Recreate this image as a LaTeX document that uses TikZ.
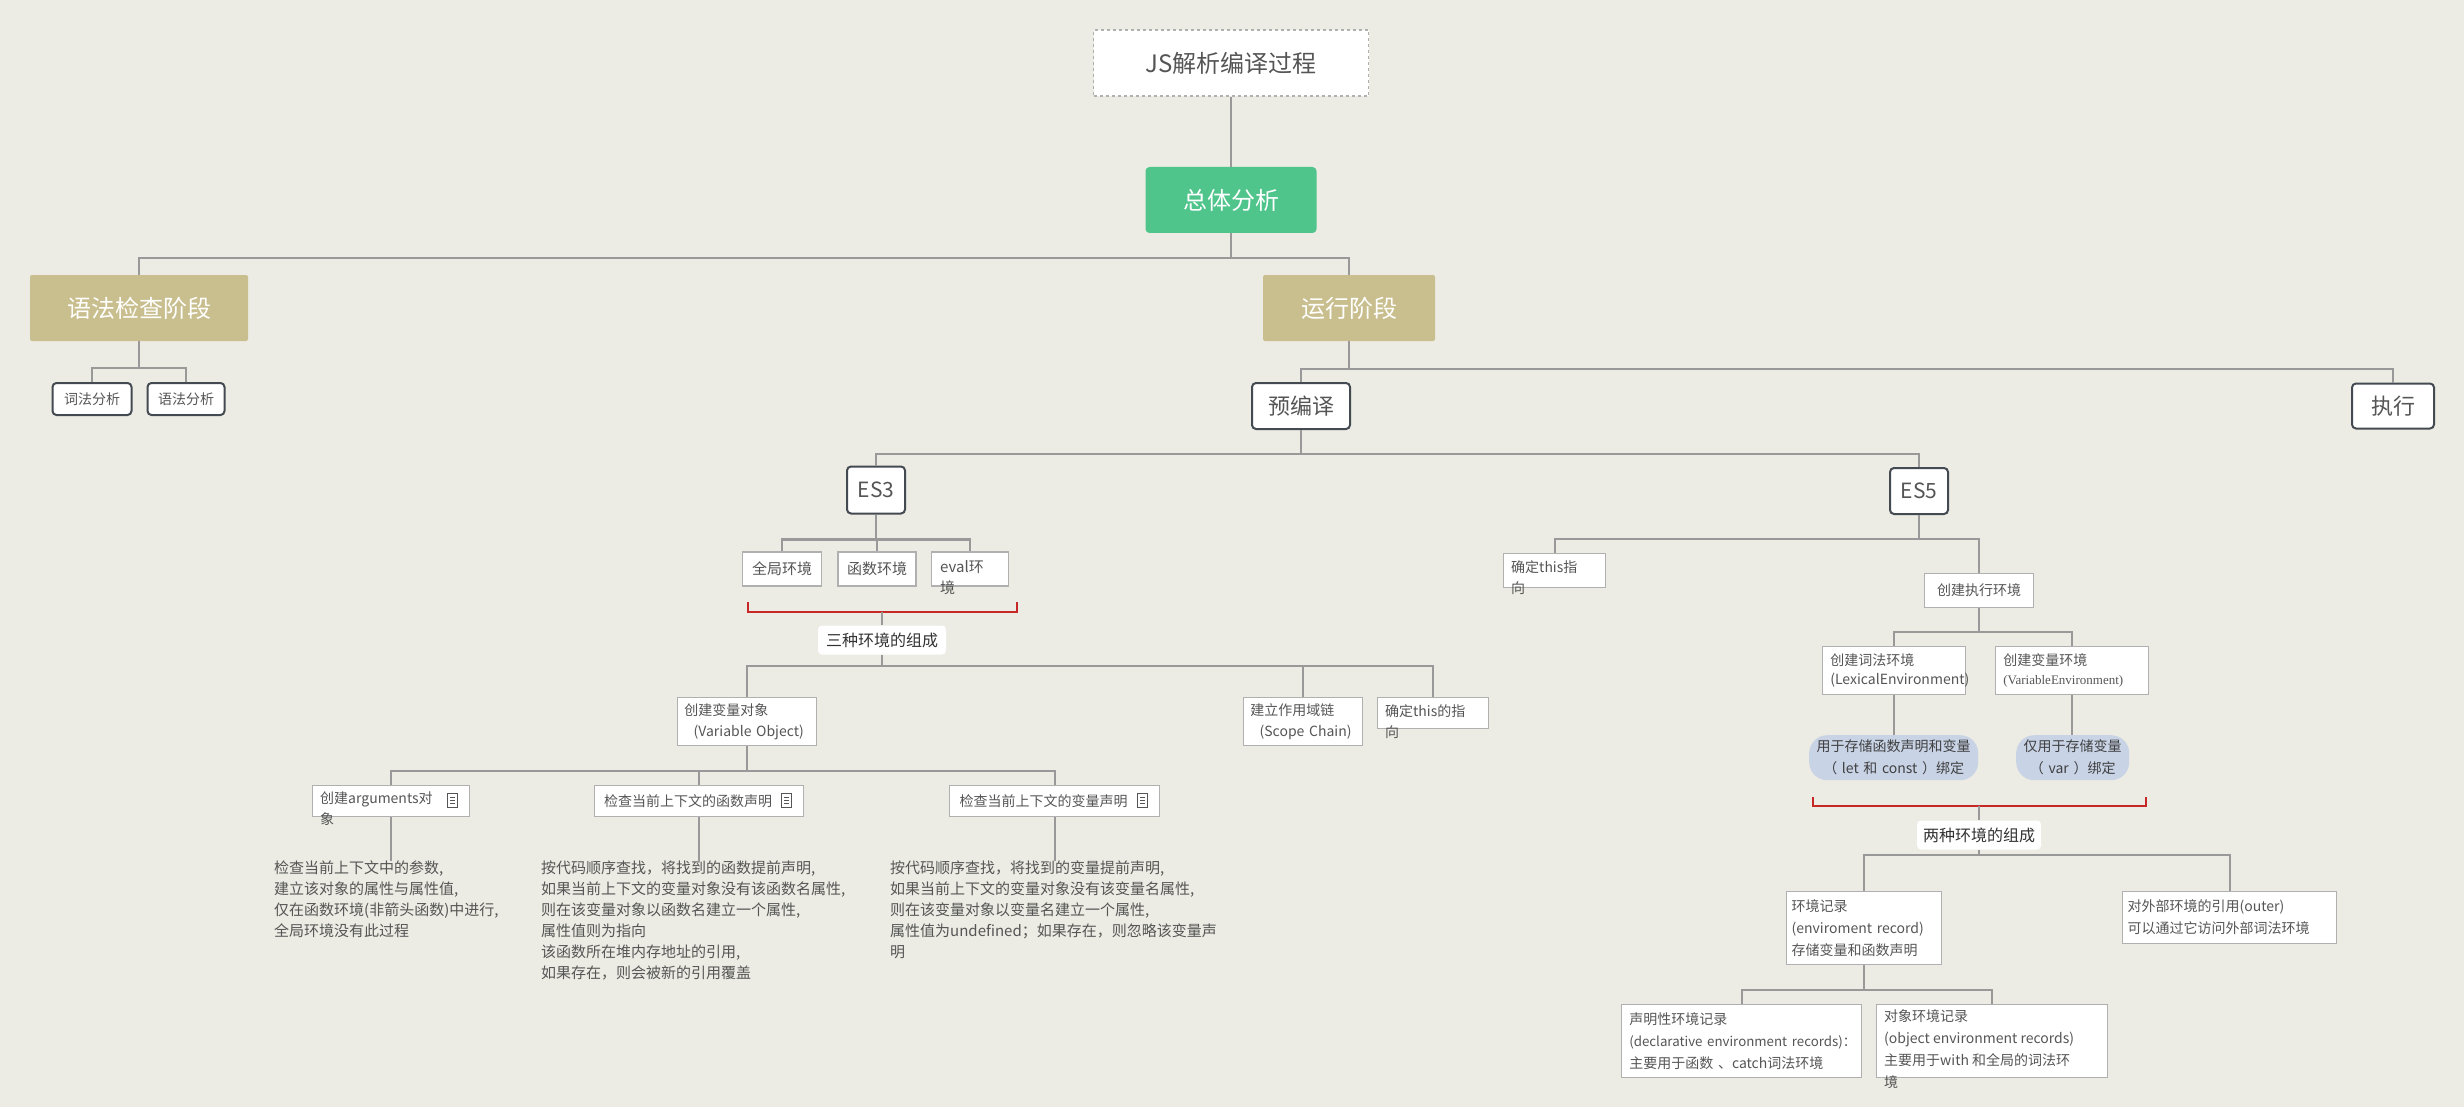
\documentclass[tikz,border=0pt]{standalone}
\usepackage{fontspec}
\setmainfont{Noto Sans CJK SC}
\newfontfamily\serifx{Liberation Serif}
\definecolor{bg}{HTML}{ECECE4}
\definecolor{ln}{HTML}{999999}
\definecolor{bx}{HTML}{B0B0B0}
\definecolor{tx}{HTML}{555555}
\definecolor{grn}{HTML}{4FC48B}
\definecolor{tan}{HTML}{C9BE8D}
\definecolor{pill}{HTML}{C8D3E6}
\definecolor{brk}{HTML}{C62828}
\definecolor{dk}{HTML}{444A52}
\newcommand\notesym[1]{\draw[tx,line width=1] ($(#1)+(-5,-7)$) rectangle ($(#1)+(5,7)$);
 \draw[tx,line width=0.8] ($(#1)+(-2,-3)$)--($(#1)+(3,-3)$) ($(#1)+(-2,0)$)--($(#1)+(3,0)$) ($(#1)+(-2,3)$)--($(#1)+(3,3)$);}
\usetikzlibrary{calc}
\begin{document}
\begin{tikzpicture}[x=1pt,y=-1pt,
 conn/.style={draw=ln,line width=2.2},
 wbox/.style={draw=bx,fill=white,line width=1.3,inner sep=0pt,text=tx,font=\fontsize{15}{21}\selectfont},
 rbox/.style={draw=dk,fill=white,line width=2,rounded corners=4,inner sep=0pt,text=tx},
 solid/.style={inner sep=0pt,text=white,rounded corners=4,font=\fontsize{24}{28}\selectfont},
 txt/.style={inner sep=0pt,text=tx,align=left,anchor=north west,font=\fontsize{15}{21}\selectfont},
 lab/.style={fill=white,rounded corners=4,inner sep=0pt,text=black!80,font=\fontsize{16}{20}\selectfont},
 pl/.style={fill=pill,rounded corners=18,inner sep=0pt,text=black!75,align=center,font=\fontsize{14}{22}\selectfont},
 brkt/.style={draw=brk,line width=1.5}]
\fill[bg] (0,0) rectangle (2464,1107);
\useasboundingbox (0,0) rectangle (2464,1107);
% top
\node[draw=bx,dashed,fill=white,line width=1.5,minimum width=275,minimum height=66,inner sep=0pt,text=tx,font=\fontsize{24}{28}\selectfont] (t) at (1231,63) {JS解析编译过程};
\node[solid,fill=grn,minimum width=171,minimum height=66] (tot) at (1231,200) {总体分析};
\node[solid,fill=tan,minimum width=218,minimum height=66,rounded corners=2] (yf) at (139,308) {语法检查阶段};
\node[solid,fill=tan,minimum width=172,minimum height=66,rounded corners=2] (yx) at (1349,308) {运行阶段};
\draw[conn] (t.south) -- (tot.north);
\draw[conn] (tot.south) -- ++(0,25) -| (yf.north);
\draw[conn] (tot.south) -- ++(0,25) -| (yx.north);
\node[rbox,minimum width=79,minimum height=32,font=\fontsize{14}{16}\selectfont] (cf) at (92,399) {词法分析};
\node[rbox,minimum width=77,minimum height=32,font=\fontsize{14}{16}\selectfont] (yfa) at (186,399) {语法分析};
\draw[conn] (yf.south) -- ++(0,27) -| (cf.north);
\draw[conn] (yf.south) -- ++(0,27) -| (yfa.north);
\node[rbox,minimum width=98,minimum height=46,font=\fontsize{22}{26}\selectfont] (yb) at (1301,406) {预编译};
\node[rbox,minimum width=82,minimum height=45,font=\fontsize{22}{26}\selectfont] (zx) at (2393,406) {执行};
\draw[conn] (yx.south) -- ++(0,28) -| (yb.north);
\draw[conn] (yx.south) -- ++(0,28) -| (zx.north);
\node[rbox,minimum width=58,minimum height=47,font=\fontsize{21}{24}\selectfont] (es3) at (876,490) {ES3};
\node[rbox,minimum width=58,minimum height=46,font=\fontsize{21}{24}\selectfont] (es5) at (1919,491) {ES5};
\draw[conn] (yb.south) -- ++(0,24) -| (es3.north);
\draw[conn] (yb.south) -- ++(0,24) -| (es5.north);
% ES3
\node[wbox,minimum width=79,minimum height=34] (qj) at (782,569) {全局环境};
\node[wbox,minimum width=78,minimum height=34] (hs) at (877,569) {函数环境};
\node[wbox,minimum width=77,minimum height=34] (ev) at (970,569) {};
\node[txt] (evt) at (940,560) {eval环\\境};
\draw[conn] (es3.south) -- ++(0,25) -| (qj.north);
\draw[conn] (es3.south) -- ++(0,25) -| (hs.north);
\draw[conn] (es3.south) -- ++(0,25) -| (ev.north);
\draw[brkt] (748,602) -- (748,612) -- (1017,612) -- (1017,602);
\node[lab,minimum width=128,minimum height=29] (sz) at (882,640) {三种环境的组成};
\draw[draw=ln,line width=1.2] (sz.north |- 0,612) -- (sz.north);
\node[wbox,minimum width=139,minimum height=48,anchor=north west,text width=135,inner xsep=2,align=left,font=\fontsize{14}{21}\selectfont] (bl) at (677,697) {\ 创建变量对象\\\mbox{\ \ \ (Variable Object)}};
\node[wbox,minimum width=119,minimum height=48,anchor=north west,text width=115,inner xsep=2,align=left,font=\fontsize{14}{21}\selectfont] (zy) at (1243,697) {\ 建立作用域链\\\mbox{\ \ \ (Scope Chain)}};
\node[wbox,minimum width=111,minimum height=31,anchor=north west] (qd) at (1377,697) {};
\node[txt,font=\fontsize{14}{21}\selectfont] (qdt) at (1385,704) {确定this的指\\向};
\draw[conn] (sz.south) -- ++(0,11) -| (bl.north);
\draw[conn] (sz.south) -- ++(0,11) -| (zy.north);
\draw[conn] (sz.south) -- ++(0,11) -| (qd.north);
\node[wbox,minimum width=157,minimum height=31,anchor=north west] (ar) at (312,785) {};
\node[txt,font=\fontsize{14}{21}\selectfont] (art) at (320,792) {创建arguments对\\象};
\node[wbox,minimum width=209,minimum height=31,anchor=north west,text width=190,inner xsep=9,align=left,font=\fontsize{14}{21}\selectfont] (fn) at (594,785) {检查当前上下文的函数声明};
\node[wbox,minimum width=210,minimum height=31,anchor=north west,text width=190,inner xsep=10,align=left,font=\fontsize{14}{21}\selectfont] (vr) at (949,785) {检查当前上下文的变量声明};
\notesym{452,800}
\notesym{786,800}
\notesym{1142,800}
\draw[conn] (bl.south) -- ++(0,25) -| (ar.north);
\draw[conn] (bl.south) -- ++(0,25) -| (fn.north);
\draw[conn] (bl.south) -- ++(0,25) -| (vr.north);
\node[txt] (b1) at (274,861) {检查当前上下文中的参数,\\建立该对象的属性与属性值,\\仅在函数环境(非箭头函数)中进行,\\全局环境没有此过程};
\node[txt] (b2) at (541,861) {按代码顺序查找，将找到的函数提前声明,\\如果当前上下文的变量对象没有该函数名属性,\\则在该变量对象以函数名建立一个属性,\\属性值则为指向\\该函数所在堆内存地址的引用,\\如果存在，则会被新的引用覆盖};
\node[txt] (b3) at (890,861) {按代码顺序查找，将找到的变量提前声明,\\如果当前上下文的变量对象没有该变量名属性,\\则在该变量对象以变量名建立一个属性,\\属性值为undefined；如果存在，则忽略该变量声\\明};
\draw[conn] (ar.south) -- (ar.south |- b1.north);
\draw[conn] (fn.south) -- (fn.south |- b2.north);
\draw[conn] (vr.south) -- (vr.south |- b3.north);
% ES5
\node[wbox,minimum width=102,minimum height=34,anchor=north west] (qt) at (1503,553) {};
\node[txt,font=\fontsize{14}{21}\selectfont] (qtt) at (1511,560) {确定this指\\向};
\node[wbox,minimum width=109,minimum height=34,anchor=north west,font=\fontsize{14}{21}\selectfont] (cj) at (1924,573) {创建执行环境};
\draw[conn] (es5.south) -- ++(0,24) -| (qt.north);
\draw[conn] (es5.south) -- ++(0,24) -| (cj.north);
\node[wbox,minimum width=143,minimum height=48,anchor=north west,text width=137,inner xsep=3,align=left,font=\fontsize{14}{19}\selectfont] (lx) at (1822,646) {\ 创建词法环境\\\mbox{\ (LexicalEnvironment)}};
\node[wbox,minimum width=153,minimum height=48,anchor=north west,text width=147,inner xsep=3,align=left,font=\fontsize{14}{19}\selectfont] (ve) at (1995,646) {\ 创建变量环境\\\mbox{\ {\serifx\fontsize{13}{19}\selectfont (VariableEnvironment)}}};
\draw[conn] (cj.south) -- ++(0,24) -| (lx.north);
\draw[conn] (cj.south) -- ++(0,24) -| (ve.north);
\node[pl,minimum width=169,minimum height=45,anchor=north west,text width=165] (p1) at (1809,735) {用于存储函数声明和变量\\（ let 和 const ）绑定};
\node[pl,minimum width=113,minimum height=45,anchor=north west,text width=110] (p2) at (2016,735) {仅用于存储变量\\（ var ）绑定};
\draw[conn] (lx.south) -- (lx.south |- p1.north);
\draw[conn] (ve.south) -- (ve.south |- p2.north);
\draw[brkt] (1813,797) -- (1813,806) -- (2146,806) -- (2146,797);
\node[lab,minimum width=124,minimum height=29] (lz) at (1979,835) {两种环境的组成};
\draw[draw=ln,line width=1.2] (lz.north |- 0,806) -- (lz.north);
\node[wbox,minimum width=155,minimum height=73,anchor=north west,text width=145,inner xsep=5,align=left,font=\fontsize{14}{22}\selectfont] (hj) at (1786,891) {环境记录\\\mbox{(enviroment record)}\\存储变量和函数声明};
\node[wbox,minimum width=214,minimum height=52,anchor=north west,text width=204,inner xsep=5,align=left,font=\fontsize{14}{22}\selectfont] (dw) at (2122,891) {对外部环境的引用(outer)\\可以通过它访问外部词法环境};
\draw[conn] (lz.south) -- ++(0,5) -| (hj.north);
\draw[conn] (lz.south) -- ++(0,5) -| (dw.north);
\node[wbox,minimum width=240,minimum height=73,anchor=north west,text width=234,inner xsep=3,align=left,font=\fontsize{14}{22}\selectfont] (sm) at (1621,1004) {\ 声明性环境记录\\\mbox{\ \fontsize{13.3}{22}\selectfont(declarative environment records)：}\\\ 主要用于函数 、catch词法环境};
\node[wbox,minimum width=231,minimum height=73,anchor=north west] (dx) at (1876,1004) {};
\node[txt,font=\fontsize{14}{22}\selectfont] (dxt) at (1884,1009) {对象环境记录\\(object environment records)\\主要用于with 和全局的词法环\\境};
\draw[conn] (hj.south) -- ++(0,25) -| (sm.north);
\draw[conn] (hj.south) -- ++(0,25) -| (dx.north);
\end{tikzpicture}
\end{document}
